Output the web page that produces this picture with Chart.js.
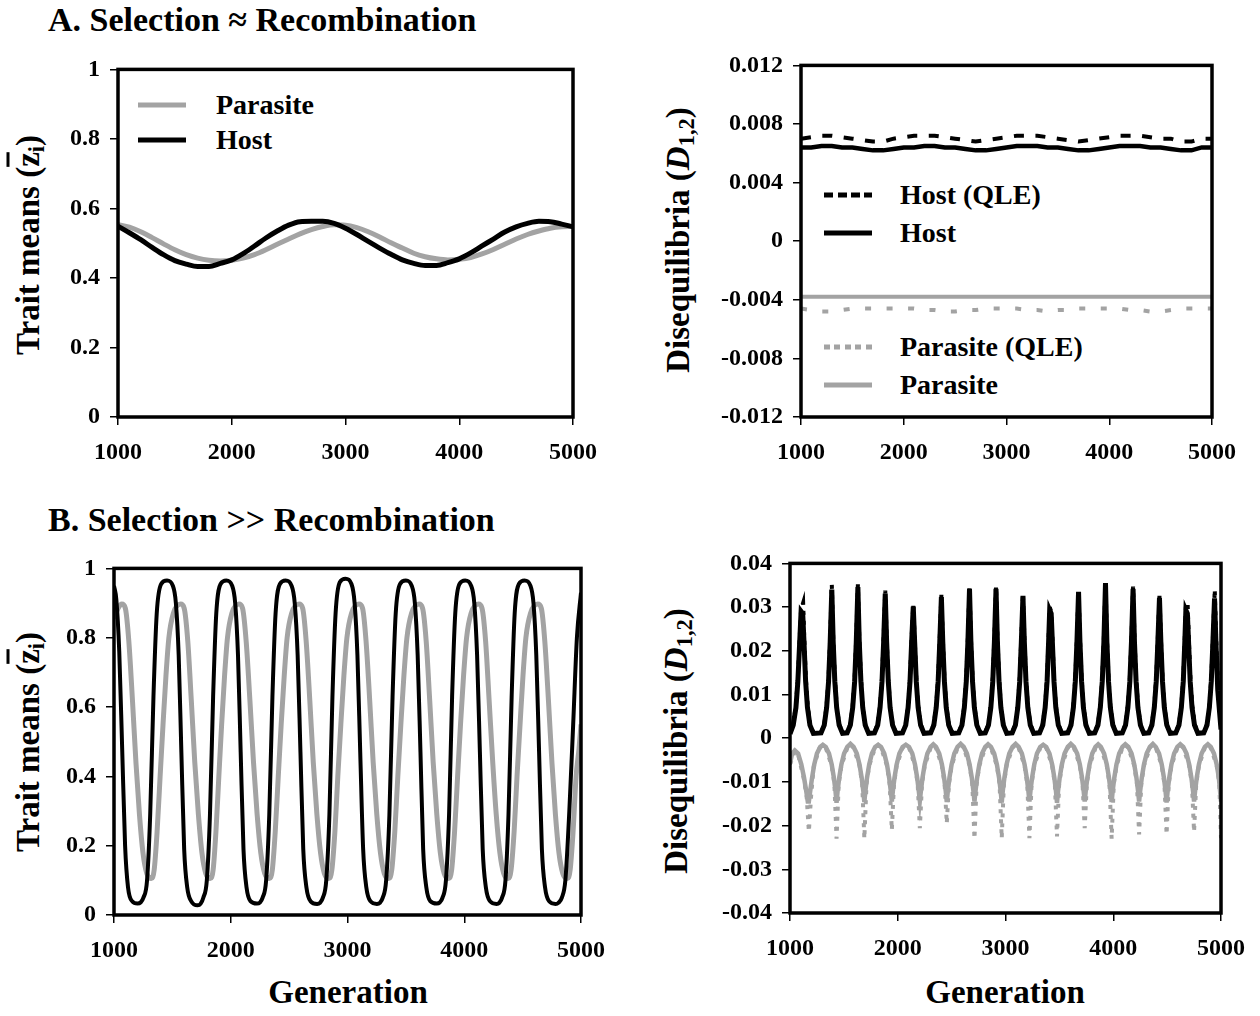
<!DOCTYPE html>
<html>
<head>
<meta charset="utf-8">
<script src="https://cdn.jsdelivr.net/npm/chart.js@4.4.1/dist/chart.umd.min.js"></script>
<style>
  body { margin: 0; background: #fff; width: 1260px; height: 1016px; position: relative; overflow: hidden;
         font-family: 'Liberation Serif', 'Times New Roman', serif; font-weight: bold; color: #000; }
  canvas { position: absolute; }
  .t { position: absolute; white-space: nowrap; line-height: 1; }
  .ptitle { font-size: 34px; transform: translateY(-50%); }
  .ytitle { font-size: 33px; transform: translate(-50%, -50%) rotate(-90deg); }
  .xtitle { font-size: 33px; transform: translate(-50%, -50%); }
  .leg { font-size: 28px; transform: translateY(-50%); }
  .sw { position: absolute; width: 48px; height: 5px; transform: translateY(-50%); }
  sub { font-size: 0.68em; vertical-align: -0.25em; line-height: 0; }
</style>
</head>
<body>

<div class="t ptitle" style="left:48px; top:20px;">A. Selection ≈ Recombination</div>
<div class="t ptitle" style="left:48px; top:520px;">B. Selection &gt;&gt; Recombination</div>

<div class="t ytitle" style="left:28px; top:245px;">Trait means (<span style="text-decoration:overline;">z</span><sub>i</sub>)</div>
<div class="t ytitle" style="left:678px; top:240px;">Disequilibria (<i>D</i><sub>1,2</sub>)</div>
<div class="t ytitle" style="left:28px; top:742px;">Trait means (<span style="text-decoration:overline;">z</span><sub>i</sub>)</div>
<div class="t ytitle" style="left:676px; top:741px;">Disequilibria (<i>D</i><sub>1,2</sub>)</div>

<div class="t xtitle" style="left:348px; top:992px;">Generation</div>
<div class="t xtitle" style="left:1005px; top:992px;">Generation</div>

<!-- legende panneau A gauche -->
<div class="sw" style="left:138px; top:105px; background:#a3a3a3;"></div>
<div class="t leg" style="left:216px; top:105px;">Parasite</div>
<div class="sw" style="left:138px; top:140px; background:#000;"></div>
<div class="t leg" style="left:216px; top:140px;">Host</div>

<!-- legende panneau A droite -->
<div class="sw" style="left:824px; top:195px; background:repeating-linear-gradient(90deg,#000 0 9px,transparent 9px 13.5px);"></div>
<div class="t leg" style="left:900px; top:195px;">Host (QLE)</div>
<div class="sw" style="left:824px; top:233px; background:#000;"></div>
<div class="t leg" style="left:900px; top:233px;">Host</div>
<div class="sw" style="left:824px; top:347px; background:repeating-linear-gradient(90deg,#a3a3a3 0 6px,transparent 6px 10.5px);"></div>
<div class="t leg" style="left:900px; top:347px;">Parasite (QLE)</div>
<div class="sw" style="left:824px; top:385px; background:#a3a3a3;"></div>
<div class="t leg" style="left:900px; top:385px;">Parasite</div>

<canvas id="aLeft"></canvas>
<canvas id="aRight"></canvas>
<canvas id="bLeft"></canvas>
<canvas id="bRight"></canvas>

<script>
// ---- donnees ----
const genTicks = [1000, 2000, 3000, 4000, 5000];
const traitTicks = [0, 0.2, 0.4, 0.6, 0.8, 1];
const dTicksA = [-0.012, -0.008, -0.004, 0, 0.004, 0.008, 0.012];
const dTicksB = [-0.04, -0.03, -0.02, -0.01, 0, 0.01, 0.02, 0.03, 0.04];

// A : generations tous les 100
const genA = [1000, 1100, 1200, 1300, 1400, 1500, 1600, 1700, 1800, 1900,
              2000, 2100, 2200, 2300, 2400, 2500, 2600, 2700, 2800, 2900,
              3000, 3100, 3200, 3300, 3400, 3500, 3600, 3700, 3800, 3900,
              4000, 4100, 4200, 4300, 4400, 4500, 4600, 4700, 4800, 4900, 5000];

const hostTraitA = [0.549, 0.530, 0.510, 0.488, 0.467, 0.450, 0.440, 0.433, 0.433, 0.442,
                    0.452, 0.470, 0.492, 0.515, 0.535, 0.552, 0.562, 0.563, 0.563, 0.557,
                    0.543, 0.525, 0.505, 0.486, 0.468, 0.452, 0.442, 0.436, 0.436, 0.444,
                    0.455, 0.472, 0.492, 0.512, 0.532, 0.547, 0.557, 0.563, 0.562, 0.555, 0.547];
const parasiteTraitA = [0.553, 0.546, 0.533, 0.516, 0.498, 0.481, 0.467, 0.457, 0.451, 0.449,
                        0.451, 0.457, 0.467, 0.481, 0.497, 0.512, 0.527, 0.539, 0.548, 0.553,
                        0.552, 0.545, 0.533, 0.518, 0.501, 0.486, 0.471, 0.461, 0.455, 0.452,
                        0.454, 0.459, 0.469, 0.482, 0.497, 0.512, 0.525, 0.535, 0.543, 0.547, 0.548];

const hostQleA = [0.0070, 0.0071, 0.0072, 0.0072, 0.0071, 0.0070, 0.0069, 0.0068, 0.0068, 0.0070,
                  0.0071, 0.0072, 0.0072, 0.0072, 0.0071, 0.0070, 0.0069, 0.0068, 0.0069, 0.0070,
                  0.0071, 0.0072, 0.0072, 0.0072, 0.0071, 0.0070, 0.0069, 0.0068, 0.0069, 0.0070,
                  0.0071, 0.0072, 0.0072, 0.0072, 0.0071, 0.0070, 0.0070, 0.0068, 0.0068, 0.0070, 0.0070];
const hostDA = [0.0064, 0.0064, 0.0065, 0.0065, 0.0064, 0.0064, 0.0063, 0.0062, 0.0062, 0.0063,
                0.0064, 0.0064, 0.0065, 0.0065, 0.0064, 0.0064, 0.0063, 0.0062, 0.0062, 0.0063,
                0.0064, 0.0065, 0.0065, 0.0065, 0.0064, 0.0064, 0.0063, 0.0062, 0.0062, 0.0063,
                0.0064, 0.0065, 0.0065, 0.0065, 0.0064, 0.0064, 0.0063, 0.0062, 0.0062, 0.0064, 0.0064];
const parasiteQleA = [-0.0046, -0.0047, -0.0048, -0.0048, -0.0047, -0.0046, -0.0046, -0.0046, -0.0046, -0.0046,
                      -0.0046, -0.0046, -0.0047, -0.0047, -0.0048, -0.0048, -0.0047, -0.0047, -0.0046, -0.0046,
                      -0.0046, -0.0046, -0.0047, -0.0047, -0.0048, -0.0047, -0.0047, -0.0046, -0.0046, -0.0046,
                      -0.0046, -0.0046, -0.0047, -0.0047, -0.0048, -0.0048, -0.0047, -0.0046, -0.0046, -0.0046, -0.0046];
const parasiteDA = [-0.0038, -0.0038, -0.0038, -0.0038, -0.0038, -0.0038, -0.0038, -0.0038, -0.0038, -0.0038,
                    -0.0038, -0.0038, -0.0038, -0.0038, -0.0038, -0.0038, -0.0038, -0.0038, -0.0038, -0.0038,
                    -0.0038, -0.0038, -0.0038, -0.0038, -0.0038, -0.0038, -0.0038, -0.0038, -0.0038, -0.0038,
                    -0.0038, -0.0038, -0.0038, -0.0038, -0.0038, -0.0038, -0.0038, -0.0038, -0.0038, -0.0038, -0.0038];

// B : [generation, valeur]
const hostTraitB = [
  [1000, 0.95], [1020, 0.91], [1045, 0.76], [1070, 0.48], [1095, 0.20], [1120, 0.08], [1155, 0.04], [1202, 0.033],
  [1227, 0.036], [1252, 0.05], [1283, 0.10], [1310, 0.29], [1338, 0.63], [1366, 0.87], [1404, 0.955], [1454, 0.965],
  [1504, 0.95], [1530, 0.90], [1554, 0.75], [1577, 0.47], [1601, 0.19], [1627, 0.08], [1661, 0.04], [1716, 0.028],
  [1741, 0.032], [1765, 0.05], [1795, 0.10], [1822, 0.29], [1849, 0.63], [1876, 0.87], [1913, 0.955], [1962, 0.965],
  [2012, 0.95], [2038, 0.90], [2062, 0.75], [2085, 0.47], [2109, 0.19], [2135, 0.08], [2169, 0.04], [2224, 0.033],
  [2249, 0.036], [2273, 0.05], [2303, 0.10], [2330, 0.29], [2357, 0.63], [2384, 0.87], [2421, 0.955], [2470, 0.965],
  [2521, 0.95], [2548, 0.90], [2573, 0.75], [2597, 0.47], [2621, 0.19], [2648, 0.08], [2683, 0.04], [2740, 0.032],
  [2764, 0.035], [2789, 0.05], [2818, 0.10], [2845, 0.29], [2871, 0.63], [2898, 0.87], [2934, 0.96], [2983, 0.97],
  [3034, 0.955], [3061, 0.90], [3085, 0.75], [3109, 0.47], [3134, 0.19], [3161, 0.08], [3196, 0.04], [3252, 0.032],
  [3277, 0.035], [3302, 0.05], [3331, 0.10], [3359, 0.29], [3386, 0.63], [3413, 0.87], [3450, 0.955], [3500, 0.965],
  [3550, 0.95], [3577, 0.90], [3601, 0.75], [3625, 0.47], [3648, 0.19], [3675, 0.08], [3709, 0.04], [3765, 0.033],
  [3789, 0.036], [3814, 0.05], [3843, 0.10], [3870, 0.29], [3896, 0.63], [3923, 0.87], [3959, 0.955], [4008, 0.965],
  [4059, 0.95], [4086, 0.90], [4110, 0.75], [4134, 0.47], [4158, 0.19], [4185, 0.08], [4220, 0.04], [4276, 0.032],
  [4300, 0.035], [4324, 0.05], [4353, 0.10], [4379, 0.29], [4406, 0.63], [4432, 0.87], [4468, 0.955], [4516, 0.965],
  [4567, 0.95], [4593, 0.90], [4617, 0.75], [4641, 0.47], [4665, 0.19], [4692, 0.08], [4726, 0.04], [4782, 0.032],
  [4806, 0.035], [4836, 0.05], [4866, 0.10], [4900, 0.30], [4933, 0.55], [4965, 0.80], [5000, 0.93]
];
const parasiteTraitB = [
  [1000, 0.855], [1035, 0.885], [1067, 0.897],
  [1097, 0.885], [1127, 0.79], [1158, 0.62], [1188, 0.44], [1218, 0.29], [1248, 0.18], [1281, 0.12], [1319, 0.105],
  [1344, 0.13], [1369, 0.24], [1395, 0.40], [1420, 0.55], [1445, 0.69], [1470, 0.80], [1508, 0.87], [1571, 0.897],
  [1601, 0.885], [1632, 0.79], [1662, 0.62], [1692, 0.44], [1723, 0.29], [1753, 0.18], [1786, 0.12], [1824, 0.105],
  [1849, 0.13], [1873, 0.24], [1898, 0.40], [1922, 0.55], [1947, 0.69], [1972, 0.80], [2009, 0.87], [2070, 0.897],
  [2101, 0.885], [2132, 0.79], [2164, 0.62], [2195, 0.44], [2226, 0.29], [2257, 0.18], [2291, 0.12], [2330, 0.105],
  [2356, 0.13], [2381, 0.24], [2407, 0.40], [2432, 0.55], [2458, 0.69], [2483, 0.80], [2521, 0.87], [2585, 0.897],
  [2616, 0.885], [2646, 0.79], [2677, 0.62], [2707, 0.44], [2738, 0.29], [2769, 0.18], [2802, 0.12], [2840, 0.105],
  [2866, 0.13], [2892, 0.24], [2917, 0.40], [2943, 0.55], [2969, 0.69], [2995, 0.80], [3034, 0.87], [3098, 0.897],
  [3129, 0.885], [3159, 0.79], [3190, 0.62], [3220, 0.44], [3251, 0.29], [3282, 0.18], [3315, 0.12], [3353, 0.105],
  [3379, 0.13], [3405, 0.24], [3431, 0.40], [3457, 0.55], [3483, 0.69], [3509, 0.80], [3548, 0.87], [3613, 0.897],
  [3643, 0.885], [3674, 0.79], [3704, 0.62], [3734, 0.44], [3765, 0.29], [3795, 0.18], [3828, 0.12], [3866, 0.105],
  [3892, 0.13], [3917, 0.24], [3943, 0.40], [3968, 0.55], [3994, 0.69], [4020, 0.80], [4058, 0.87], [4122, 0.897],
  [4152, 0.885], [4183, 0.79], [4213, 0.62], [4244, 0.44], [4274, 0.29], [4305, 0.18], [4338, 0.12], [4376, 0.105],
  [4401, 0.13], [4427, 0.24], [4452, 0.40], [4478, 0.55], [4503, 0.69], [4528, 0.80], [4567, 0.87], [4630, 0.897],
  [4660, 0.885], [4690, 0.79], [4721, 0.62], [4751, 0.44], [4781, 0.29], [4811, 0.18], [4844, 0.12], [4882, 0.105],
  [4907, 0.13], [4932, 0.24], [4958, 0.40], [4983, 0.48], [5000, 0.55]
];

const hostDB = [
  [1000, 0.0010], [1030, 0.003], [1055, 0.007], [1073, 0.013], [1090, 0.022], [1103, 0.029], [1118, 0.0285], [1130, 0.022], [1145, 0.013], [1162, 0.007], [1185, 0.003], [1217, 0.0011],
  [1288, 0.0012], [1318, 0.003], [1340, 0.007], [1358, 0.013], [1373, 0.022], [1388, 0.034], [1401, 0.022], [1416, 0.013], [1433, 0.007], [1456, 0.003], [1488, 0.0011],
  [1530, 0.0012], [1560, 0.003], [1582, 0.007], [1600, 0.013], [1615, 0.022], [1630, 0.0346], [1643, 0.022], [1658, 0.013], [1675, 0.007], [1698, 0.003], [1730, 0.0011],
  [1784, 0.0012], [1814, 0.003], [1836, 0.007], [1854, 0.013], [1869, 0.022], [1884, 0.0331], [1897, 0.022], [1912, 0.013], [1929, 0.007], [1952, 0.003], [1984, 0.0011],
  [2044, 0.0012], [2074, 0.003], [2096, 0.007], [2114, 0.013], [2129, 0.022], [2144, 0.0301], [2157, 0.022], [2172, 0.013], [2189, 0.007], [2212, 0.003], [2244, 0.0011],
  [2305, 0.0012], [2335, 0.003], [2357, 0.007], [2375, 0.013], [2390, 0.022], [2405, 0.0323], [2418, 0.022], [2433, 0.013], [2450, 0.007], [2473, 0.003], [2505, 0.0011],
  [2566, 0.0012], [2596, 0.003], [2618, 0.007], [2636, 0.013], [2651, 0.022], [2666, 0.0342], [2679, 0.022], [2694, 0.013], [2711, 0.007], [2734, 0.003], [2766, 0.0011],
  [2812, 0.0012], [2842, 0.003], [2864, 0.007], [2882, 0.013], [2897, 0.022], [2912, 0.0342], [2925, 0.022], [2940, 0.013], [2957, 0.007], [2980, 0.003], [3012, 0.0011],
  [3062, 0.0012], [3092, 0.003], [3114, 0.007], [3132, 0.013], [3147, 0.022], [3162, 0.0326], [3175, 0.022], [3190, 0.013], [3207, 0.007], [3230, 0.003], [3262, 0.0011],
  [3316, 0.0012], [3346, 0.003], [3368, 0.007], [3386, 0.013], [3400, 0.022], [3410, 0.0293], [3424, 0.0285], [3435, 0.022], [3450, 0.013], [3467, 0.007], [3490, 0.003], [3522, 0.0011],
  [3578, 0.0012], [3608, 0.003], [3630, 0.007], [3648, 0.013], [3663, 0.022], [3678, 0.0335], [3691, 0.022], [3706, 0.013], [3723, 0.007], [3746, 0.003], [3778, 0.0011],
  [3828, 0.0012], [3858, 0.003], [3880, 0.007], [3898, 0.013], [3913, 0.022], [3928, 0.0355], [3941, 0.022], [3956, 0.013], [3973, 0.007], [3996, 0.003], [4028, 0.0011],
  [4084, 0.0012], [4114, 0.003], [4136, 0.007], [4154, 0.013], [4169, 0.022], [4184, 0.0342], [4197, 0.022], [4212, 0.013], [4229, 0.007], [4252, 0.003], [4284, 0.0011],
  [4329, 0.0012], [4359, 0.003], [4381, 0.007], [4399, 0.013], [4414, 0.022], [4429, 0.0321], [4442, 0.022], [4457, 0.013], [4474, 0.007], [4497, 0.003], [4529, 0.0011],
  [4580, 0.0012], [4610, 0.003], [4632, 0.007], [4650, 0.013], [4664, 0.022], [4674, 0.0293], [4688, 0.0285], [4699, 0.022], [4714, 0.013], [4731, 0.007], [4754, 0.003], [4786, 0.0011],
  [4840, 0.0012], [4870, 0.003], [4892, 0.007], [4910, 0.013], [4925, 0.022], [4940, 0.032], [4953, 0.022], [4970, 0.011], [5000, 0.002]
];
const hostQleDB = [
  [1000, 0.0011], [1030, 0.0032], [1055, 0.0075], [1073, 0.0138], [1090, 0.023], [1103, 0.0295], [1122, 0.031], [1132, 0.023], [1147, 0.0138], [1164, 0.0075], [1187, 0.0032], [1219, 0.0012],
  [1288, 0.0013], [1318, 0.0032], [1340, 0.0075], [1358, 0.0138], [1373, 0.023], [1388, 0.0352], [1401, 0.023], [1416, 0.0138], [1433, 0.0075], [1456, 0.0032], [1488, 0.0012],
  [1530, 0.0013], [1560, 0.0032], [1582, 0.0075], [1600, 0.0138], [1615, 0.023], [1630, 0.0352], [1643, 0.023], [1658, 0.0138], [1675, 0.0075], [1698, 0.0032], [1730, 0.0012],
  [1784, 0.0013], [1814, 0.0032], [1836, 0.0075], [1854, 0.0138], [1869, 0.023], [1884, 0.0338], [1897, 0.023], [1912, 0.0138], [1929, 0.0075], [1952, 0.0032], [1984, 0.0012],
  [2044, 0.0013], [2074, 0.0032], [2096, 0.0075], [2114, 0.0138], [2129, 0.023], [2144, 0.0305], [2157, 0.023], [2172, 0.0138], [2189, 0.0075], [2212, 0.0032], [2244, 0.0012],
  [2305, 0.0013], [2335, 0.0032], [2357, 0.0075], [2375, 0.0138], [2390, 0.023], [2405, 0.0328], [2418, 0.023], [2433, 0.0138], [2450, 0.0075], [2473, 0.0032], [2505, 0.0012],
  [2566, 0.0013], [2596, 0.0032], [2618, 0.0075], [2636, 0.0138], [2651, 0.023], [2666, 0.0347], [2679, 0.023], [2694, 0.0138], [2711, 0.0075], [2734, 0.0032], [2766, 0.0012],
  [2812, 0.0013], [2842, 0.0032], [2864, 0.0075], [2882, 0.0138], [2897, 0.023], [2912, 0.0347], [2925, 0.023], [2940, 0.0138], [2957, 0.0075], [2980, 0.0032], [3012, 0.0012],
  [3062, 0.0013], [3092, 0.0032], [3114, 0.0075], [3132, 0.0138], [3147, 0.023], [3162, 0.0331], [3175, 0.023], [3190, 0.0138], [3207, 0.0075], [3230, 0.0032], [3262, 0.0012],
  [3316, 0.0013], [3346, 0.0032], [3368, 0.0075], [3386, 0.0138], [3400, 0.023], [3410, 0.0300], [3424, 0.029], [3435, 0.023], [3450, 0.0138], [3467, 0.0075], [3490, 0.0032], [3522, 0.0012],
  [3578, 0.0013], [3608, 0.0032], [3630, 0.0075], [3648, 0.0138], [3663, 0.023], [3678, 0.0340], [3691, 0.023], [3706, 0.0138], [3723, 0.0075], [3746, 0.0032], [3778, 0.0012],
  [3828, 0.0013], [3858, 0.0032], [3880, 0.0075], [3898, 0.0138], [3913, 0.023], [3928, 0.0358], [3941, 0.023], [3956, 0.0138], [3973, 0.0075], [3996, 0.0032], [4028, 0.0012],
  [4084, 0.0013], [4114, 0.0032], [4136, 0.0075], [4154, 0.0138], [4169, 0.023], [4184, 0.0347], [4197, 0.023], [4212, 0.0138], [4229, 0.0075], [4252, 0.0032], [4284, 0.0012],
  [4329, 0.0013], [4359, 0.0032], [4381, 0.0075], [4399, 0.0138], [4414, 0.023], [4429, 0.0326], [4442, 0.023], [4457, 0.0138], [4474, 0.0075], [4497, 0.0032], [4529, 0.0012],
  [4580, 0.0013], [4610, 0.0032], [4632, 0.0075], [4650, 0.0138], [4664, 0.023], [4674, 0.0300], [4690, 0.0310], [4701, 0.023], [4716, 0.0138], [4733, 0.0075], [4756, 0.0032], [4788, 0.0012],
  [4840, 0.0013], [4870, 0.0032], [4892, 0.0075], [4910, 0.0138], [4925, 0.023], [4942, 0.034], [4955, 0.023], [4972, 0.012], [5000, 0.0025]
];
const parasiteDB = [
  [1000, -0.0058], [1020, -0.0035], [1045, -0.0028], [1075, -0.0035], [1105, -0.006], [1130, -0.009], [1150, -0.012], [1165, -0.0145],
  [1175, -0.0145], [1188, -0.012], [1205, -0.009], [1225, -0.006], [1250, -0.0035], [1280, -0.002], [1305, -0.0015],
  [1332, -0.002], [1362, -0.0035], [1387, -0.006], [1407, -0.009], [1422, -0.012], [1432, -0.0148], [1442, -0.012], [1457, -0.009], [1477, -0.006], [1502, -0.0035], [1532, -0.002], [1561, -0.0013],
  [1590, -0.002], [1620, -0.0035], [1645, -0.006], [1665, -0.009], [1680, -0.012], [1690, -0.0146], [1700, -0.012], [1715, -0.009], [1735, -0.006], [1760, -0.0035], [1790, -0.002], [1818, -0.0015],
  [1845, -0.002], [1875, -0.0035], [1900, -0.006], [1920, -0.009], [1935, -0.012], [1945, -0.0145], [1955, -0.012], [1970, -0.009], [1990, -0.006], [2015, -0.0035], [2045, -0.002], [2075, -0.0015],
  [2105, -0.002], [2135, -0.0035], [2160, -0.006], [2180, -0.009], [2195, -0.012], [2205, -0.0143], [2215, -0.012], [2230, -0.009], [2250, -0.006], [2275, -0.0035], [2305, -0.002], [2330, -0.0014],
  [2355, -0.002], [2385, -0.0035], [2410, -0.006], [2430, -0.009], [2445, -0.012], [2455, -0.0146], [2465, -0.012], [2480, -0.009], [2500, -0.006], [2525, -0.0035], [2555, -0.002], [2584, -0.0013],
  [2612, -0.002], [2642, -0.0035], [2667, -0.006], [2687, -0.009], [2702, -0.012], [2712, -0.0145], [2722, -0.012], [2737, -0.009], [2757, -0.006], [2782, -0.0035], [2812, -0.002], [2838, -0.0014],
  [2865, -0.002], [2895, -0.0035], [2920, -0.006], [2940, -0.009], [2955, -0.012], [2965, -0.0147], [2975, -0.012], [2990, -0.009], [3010, -0.006], [3035, -0.0035], [3065, -0.002], [3094, -0.0013],
  [3122, -0.002], [3152, -0.0035], [3177, -0.006], [3197, -0.009], [3212, -0.012], [3222, -0.0145], [3232, -0.012], [3247, -0.009], [3267, -0.006], [3292, -0.0035], [3322, -0.002], [3350, -0.0015],
  [3378, -0.002], [3408, -0.0035], [3433, -0.006], [3453, -0.009], [3468, -0.012], [3478, -0.0148], [3488, -0.012], [3503, -0.009], [3523, -0.006], [3548, -0.0035], [3578, -0.002], [3606, -0.0013],
  [3635, -0.002], [3665, -0.0035], [3690, -0.006], [3710, -0.009], [3725, -0.012], [3735, -0.0145], [3745, -0.012], [3760, -0.009], [3780, -0.006], [3805, -0.0035], [3835, -0.002], [3860, -0.0014],
  [3885, -0.002], [3915, -0.0035], [3940, -0.006], [3960, -0.009], [3975, -0.012], [3985, -0.0146], [3995, -0.012], [4010, -0.009], [4030, -0.006], [4055, -0.0035], [4085, -0.002], [4112, -0.0014],
  [4140, -0.002], [4170, -0.0035], [4195, -0.006], [4215, -0.009], [4230, -0.012], [4240, -0.0145], [4250, -0.012], [4265, -0.009], [4285, -0.006], [4310, -0.0035], [4340, -0.002], [4368, -0.0013],
  [4395, -0.002], [4425, -0.0035], [4450, -0.006], [4470, -0.009], [4485, -0.012], [4495, -0.0147], [4505, -0.012], [4520, -0.009], [4540, -0.006], [4565, -0.0035], [4595, -0.002], [4622, -0.0014],
  [4650, -0.002], [4680, -0.0035], [4705, -0.006], [4725, -0.009], [4740, -0.012], [4750, -0.0145], [4760, -0.012], [4775, -0.009], [4795, -0.006], [4820, -0.0035], [4850, -0.002], [4878, -0.0014],
  [4905, -0.002], [4935, -0.0035], [4960, -0.006], [4980, -0.009], [5000, -0.0145]
];
const parasiteQleDB = [
  [1000, -0.006], [1045, -0.003], [1075, -0.0037], [1130, -0.0095], [1155, -0.0135], [1175, -0.0214], [1195, -0.0135], [1220, -0.0065], [1275, -0.0022], [1305, -0.0016],
  [1332, -0.0022], [1387, -0.0063], [1412, -0.0105], [1432, -0.023], [1452, -0.0105], [1477, -0.0063], [1532, -0.0022], [1561, -0.0014],
  [1590, -0.0022], [1645, -0.0063], [1670, -0.0105], [1690, -0.023], [1710, -0.0105], [1735, -0.0063], [1790, -0.0022], [1818, -0.0016],
  [1845, -0.0022], [1900, -0.0063], [1925, -0.0105], [1945, -0.021], [1965, -0.0105], [1990, -0.0063], [2045, -0.0022], [2075, -0.0016],
  [2105, -0.0022], [2160, -0.0063], [2185, -0.0105], [2205, -0.0206], [2225, -0.0105], [2250, -0.0063], [2305, -0.0022], [2330, -0.0015],
  [2355, -0.0022], [2410, -0.0063], [2435, -0.0105], [2455, -0.0195], [2475, -0.0105], [2500, -0.0063], [2555, -0.0022], [2584, -0.0014],
  [2612, -0.0022], [2667, -0.0063], [2692, -0.0105], [2712, -0.023], [2732, -0.0105], [2757, -0.0063], [2812, -0.0022], [2838, -0.0015],
  [2865, -0.0022], [2920, -0.0063], [2945, -0.0105], [2965, -0.0229], [2985, -0.0105], [3010, -0.0063], [3065, -0.0022], [3094, -0.0014],
  [3122, -0.0022], [3177, -0.0063], [3202, -0.0105], [3222, -0.0229], [3242, -0.0105], [3267, -0.0063], [3322, -0.0022], [3350, -0.0016],
  [3378, -0.0022], [3433, -0.0063], [3458, -0.0105], [3478, -0.0225], [3498, -0.0105], [3523, -0.0063], [3578, -0.0022], [3606, -0.0014],
  [3635, -0.0022], [3690, -0.0063], [3715, -0.0105], [3735, -0.0206], [3755, -0.0105], [3780, -0.0063], [3835, -0.0022], [3860, -0.0015],
  [3885, -0.0022], [3940, -0.0063], [3965, -0.0105], [3985, -0.023], [4005, -0.0105], [4030, -0.0063], [4085, -0.0022], [4112, -0.0015],
  [4140, -0.0022], [4195, -0.0063], [4220, -0.0105], [4240, -0.022], [4260, -0.0105], [4285, -0.0063], [4340, -0.0022], [4368, -0.0014],
  [4395, -0.0022], [4450, -0.0063], [4475, -0.0105], [4495, -0.022], [4515, -0.0105], [4540, -0.0063], [4595, -0.0022], [4622, -0.0015],
  [4650, -0.0022], [4705, -0.0063], [4730, -0.0105], [4750, -0.0214], [4770, -0.0105], [4795, -0.0063], [4850, -0.0022], [4878, -0.0015],
  [4905, -0.0022], [4960, -0.0063], [4985, -0.0105], [5000, -0.0229]
];

// ---- mise en forme ----
const GRAY = '#a3a3a3';
const FONT = "'Liberation Serif', 'Times New Roman', serif";

// cadre noir autour de la zone de tracé
const frame = {
  id: 'frame',
  afterDatasetsDraw(chart) {
    const a = chart.chartArea, c = chart.ctx;
    c.save();
    c.lineWidth = 3.5;
    c.strokeStyle = '#000';
    c.strokeRect(a.left, a.top, a.right - a.left, a.bottom - a.top);
    c.restore();
  }
};

function fromArrays(xs, ys) { return xs.map((x, i) => ({ x: x, y: ys[i] })); }
function fromPairs(p) { return p.map(d => ({ x: d[0], y: d[1] })); }

function line(data, color, width, dash, smooth) {
  return {
    data: data, borderColor: color, borderWidth: width, borderDash: dash || [],
    pointRadius: 0, fill: false,
    cubicInterpolationMode: smooth ? 'monotone' : 'default', tension: 0
  };
}

// box = [gauche, haut, droite, bas] de la zone de tracé, en px de page
function panel(id, box, yMin, yMax, yTicks, datasets) {
  const YW = 90, PT = 22, PR = 28, XH = 55;
  const cv = document.getElementById(id);
  const L = box[0] - YW, T = box[1] - PT;
  const W = box[2] + PR - L, H = box[3] + XH - T;
  cv.width = W; cv.height = H;
  cv.style.left = L + 'px'; cv.style.top = T + 'px';
  cv.style.width = W + 'px'; cv.style.height = H + 'px';

  const tickFont = { family: FONT, size: 24, weight: 'bold' };
  const grid = { drawOnChartArea: false, drawTicks: true, tickLength: 8, color: '#000', lineWidth: 1.5 };

  new Chart(cv, {
    type: 'line',
    data: { datasets: datasets },
    options: {
      responsive: false, animation: false, devicePixelRatio: 1,
      layout: { padding: { left: 0, top: PT, right: PR, bottom: 0 } },
      plugins: { legend: { display: false }, tooltip: { enabled: false } },
      scales: {
        x: {
          type: 'linear', min: 1000, max: 5000,
          afterBuildTicks: s => { s.ticks = genTicks.map(v => ({ value: v })); },
          afterFit: s => { s.height = XH; },
          ticks: { font: tickFont, color: '#000', padding: 13, maxRotation: 0, autoSkip: false, callback: v => String(v) },
          grid: grid, border: { display: false }
        },
        y: {
          type: 'linear', min: yMin, max: yMax,
          afterBuildTicks: s => { s.ticks = yTicks.map(v => ({ value: v })); },
          afterFit: s => { s.width = YW; },
          ticks: { font: tickFont, color: '#000', padding: 10, autoSkip: false, callback: v => String(v) },
          grid: grid, border: { display: false }
        }
      }
    },
    plugins: [frame]
  });
}

panel('aLeft', [118, 67, 582, 417], 0, 1, traitTicks, [
  line(fromArrays(genA, hostTraitA), '#000', 5, null, true),
  line(fromArrays(genA, parasiteTraitA), GRAY, 5, null, true)
]);

panel('aRight', [801, 63, 1221, 417], -0.012, 0.012, dTicksA, [
  line(fromArrays(genA, hostDA), '#000', 4.5),
  line(fromArrays(genA, parasiteDA), GRAY, 4),
  line(fromArrays(genA, hostQleA), '#000', 4, [10, 11.5]),
  line(fromArrays(genA, parasiteQleA), GRAY, 4, [6, 15.5])
]);

panel('bLeft', [114, 566, 590, 915], 0, 1, traitTicks, [
  line(fromPairs(hostTraitB), '#000', 4, null, true),
  line(fromPairs(parasiteTraitB), GRAY, 5, null, true)
]);

panel('bRight', [790, 561, 1230, 913], -0.04, 0.04, dTicksB, [
  line(fromPairs(hostDB), '#000', 5),
  line(fromPairs(parasiteDB), GRAY, 4.5),
  line(fromPairs(hostQleDB), '#000', 4, [4, 6]),
  line(fromPairs(parasiteQleDB), GRAY, 4, [4, 6])
]);
</script>
</body>
</html>
